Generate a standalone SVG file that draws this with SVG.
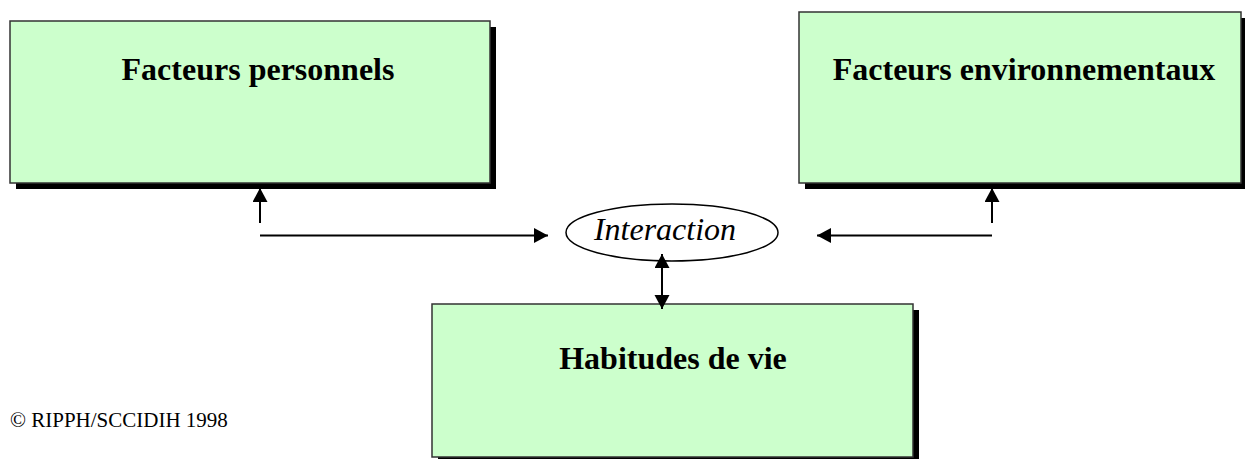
<svg xmlns="http://www.w3.org/2000/svg" width="1245" height="459" viewBox="0 0 1245 459">
  <style>
    .shadow { fill: #000000; }
    .box { fill: #CCFFCC; stroke: #333333; stroke-width: 1.5; }
    .title { font-family: "Liberation Serif", "Times New Roman", serif; font-weight: bold; font-size: 32px; fill: #000000; text-anchor: middle; }
    .label { font-family: "Liberation Serif", "Times New Roman", serif; font-style: italic; font-size: 32px; fill: #000000; text-anchor: middle; }
    .note { font-family: "Liberation Serif", "Times New Roman", serif; font-size: 21px; fill: #000000; }
    .link { fill: none; stroke: #000000; stroke-width: 2; }
  </style>
  <defs>
    <marker id="head" markerUnits="userSpaceOnUse" markerWidth="16" markerHeight="16" refX="14" refY="7.5" orient="auto-start-reverse">
      <path d="M0,0 L14,7.5 L0,15 z" fill="#000000"/>
    </marker>
  </defs>

  <rect width="1245" height="459" fill="#FFFFFF"/>

  <!-- Personal factors -->
  <g id="facteurs-personnels">
    <rect class="shadow" x="16" y="27" width="480" height="162"/>
    <rect class="box" x="10" y="21" width="480" height="162"/>
    <text class="title" x="258" y="80">Facteurs personnels</text>
  </g>

  <!-- Environmental factors -->
  <g id="facteurs-environnementaux">
    <rect class="shadow" x="805" y="18" width="442" height="171"/>
    <rect class="box" x="799" y="12" width="442" height="171"/>
    <text class="title" x="1024" y="80">Facteurs environnementaux</text>
  </g>

  <!-- Life habits -->
  <g id="habitudes-de-vie">
    <rect class="shadow" x="438" y="310" width="481" height="153"/>
    <rect class="box" x="432" y="304" width="481" height="153"/>
    <text class="title" x="673" y="369">Habitudes de vie</text>
  </g>

  <!-- Interaction hub -->
  <g id="interaction">
    <ellipse cx="672" cy="232.5" rx="106" ry="28.5" fill="#FFFFFF" stroke="#000000" stroke-width="1.5"/>
    <text class="label" x="665" y="240">Interaction</text>
  </g>

  <!-- Connectors -->
  <g id="connectors">
    <path class="link" d="M260,223 L260,188" marker-end="url(#head)"/>
    <path class="link" d="M260,235.5 L548,235.5" marker-end="url(#head)"/>
    <path class="link" d="M992,223 L992,188" marker-end="url(#head)"/>
    <path class="link" d="M992,235.5 L817,235.5" marker-end="url(#head)"/>
    <path class="link" d="M662,254 L662,309" marker-start="url(#head)" marker-end="url(#head)"/>
  </g>

  <text class="note" x="10" y="427">© RIPPH/SCCIDIH 1998</text>
</svg>
